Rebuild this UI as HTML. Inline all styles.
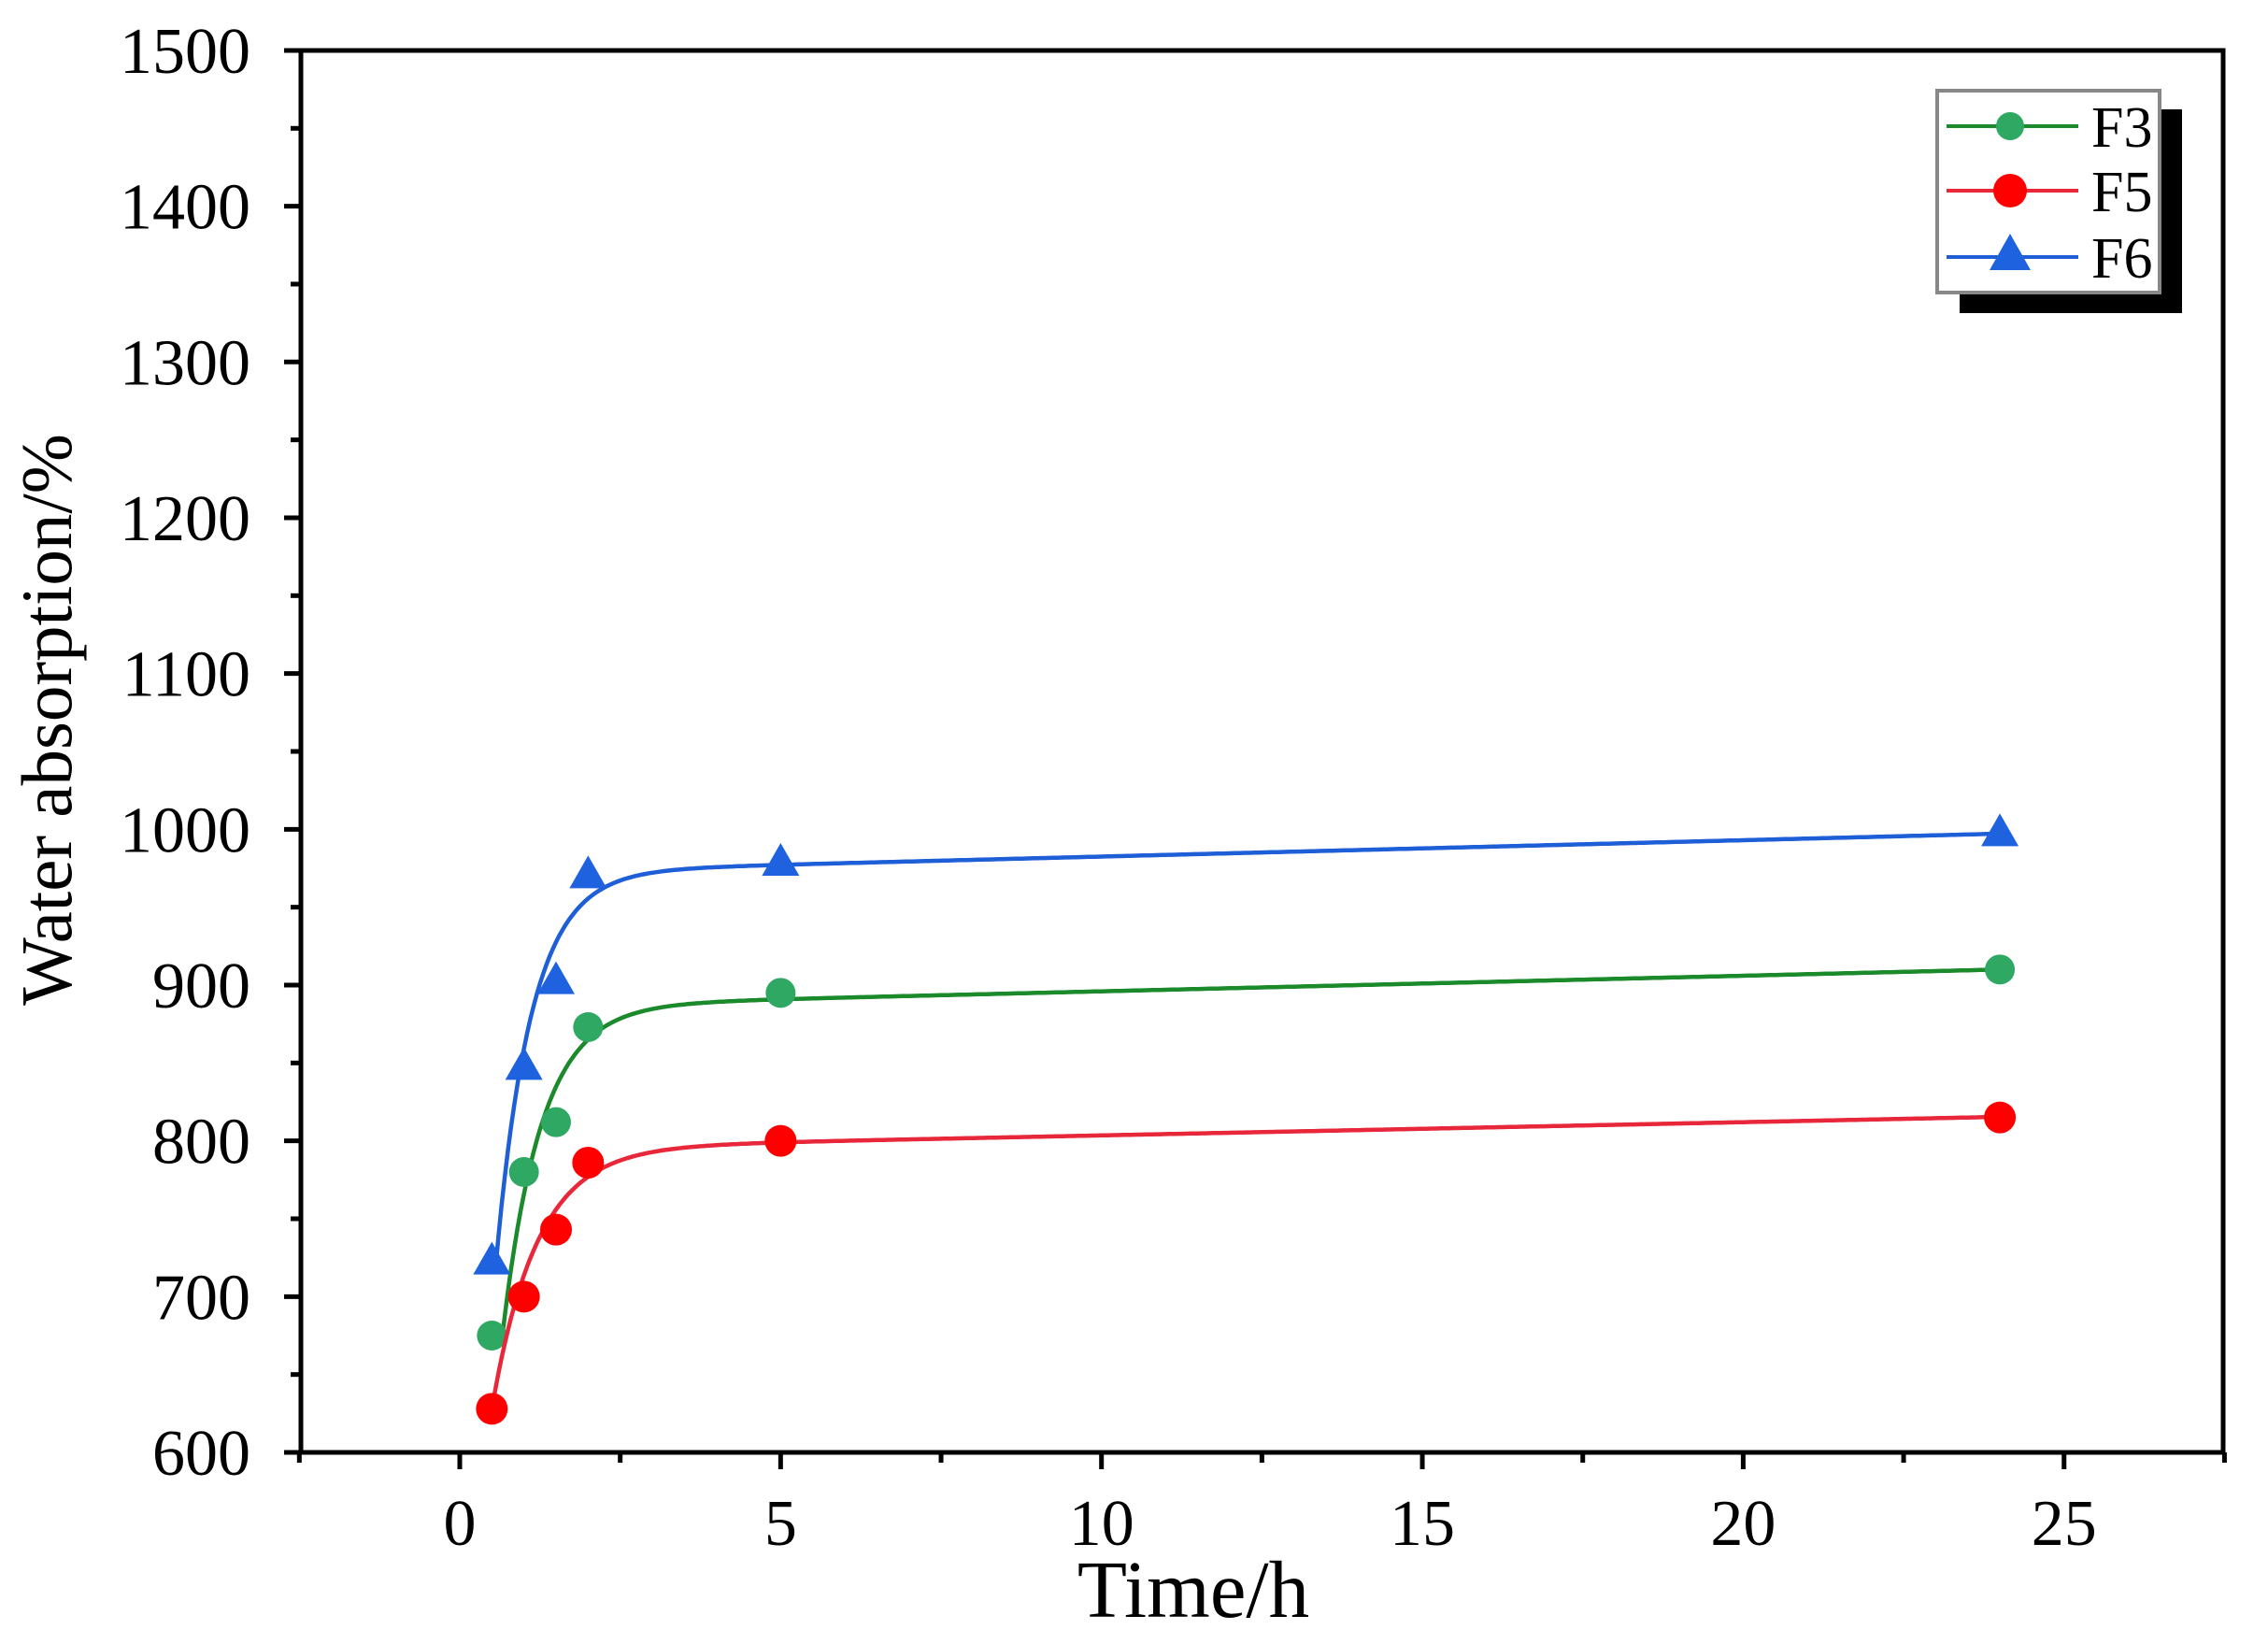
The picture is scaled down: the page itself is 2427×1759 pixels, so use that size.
<!DOCTYPE html>
<html><head><meta charset="utf-8"><style>
html,body{margin:0;padding:0;background:#fff}
svg{display:block;font-family:"Liberation Serif",serif}
</style></head><body>
<svg id="s" width="2427" height="1759" viewBox="0 0 2427 1759" xmlns="http://www.w3.org/2000/svg"></svg>
<script>
const s=document.getElementById('s');
const X=t=>492+t*68.67, Y=v=>1554-(v-600)*1.6667;
let h='';
const L=322,R=2379,T=54,B=1554;
h+=`<rect x="${L}" y="${T}" width="${R-L}" height="${B-T}" fill="none" stroke="#000" stroke-width="5"/>`;
for(let v=600;v<=1500;v+=50){const y=Y(v),maj=v%100==0;h+=`<line x1="${L-(maj?18:11)}" y1="${y}" x2="${L}" y2="${y}" stroke="#000" stroke-width="5"/>`;
if(maj)h+=`<text x="${L-54}" y="${y+24}" font-size="70" text-anchor="end">${v}</text>`;}
for(let t=-2.5;t<=27.5;t+=2.5){const x=X(t),maj=(t%5==0);h+=`<line x1="${x}" y1="${B}" x2="${x}" y2="${B+(maj?18:11)}" stroke="#000" stroke-width="5"/>`;
if(maj)h+=`<text x="${x}" y="${B+99}" font-size="70" text-anchor="middle">${t}</text>`;}
h+=`<text x="1277" y="1730" font-size="87" text-anchor="middle">Time/h</text>`;
h+=`<text transform="translate(76,770) rotate(-90)" font-size="77" text-anchor="middle">Water absorption/%</text>`;
const series=[
 {c:'#1a8a2a',m:'#2fa864',d:[[0.5,675],[1,780],[1.5,812],[2,873],[5,895],[24,910]],f:[886,1.0,670,0.65,0.6],mk:'c',r:16},
 {c:'#e8283a',m:'#ff0000',d:[[0.5,628],[1,700],[1.5,743],[2,786],[5,800],[24,815]],f:[795,0.85,628,0.5,0.7],mk:'c',r:17},
 {c:'#1e5fd8',m:'#1e62e0',d:[[0.5,722],[1,847],[1.5,902],[2,970],[5,978],[24,997]],f:[972,1.05,715,0.55,0.55],mk:'t'}];
for(const se of series){const [c,m,y0,ts,tau]=se.f;let p='';
 for(let t=ts;t<=24.001;t+=0.05){const yi=c+m*t;const y=yi-(yi-y0)*Math.exp(-(t-ts)/tau);p+=(p?'L':'M')+X(t).toFixed(1)+','+Y(y).toFixed(1);}
 h+=`<path d="${p}" fill="none" stroke="${se.c}" stroke-width="4.5"/>`;
 for(const [t,v] of se.d){const x=X(t),y=Y(v);
  if(se.mk=='c')h+=`<circle cx="${x}" cy="${y}" r="${se.r}" fill="${se.m}"/>`;
  else h+=`<polygon points="${x},${y-22} ${x-20},${y+13} ${x+20},${y+13}" fill="${se.m}"/>`;}
}
h+=`<rect x="2097" y="117" width="238" height="218" fill="#000"/>`;
h+=`<rect x="2073" y="97" width="238" height="216" fill="#fff" stroke="#888" stroke-width="4"/>`;
const ly=[135,204,275];
series.forEach((se,i)=>{const y=ly[i];h+=`<line x1="2083" y1="${y}" x2="2224" y2="${y}" stroke="${se.c}" stroke-width="4"/>`;
 if(se.mk=='c')h+=`<circle cx="2151" cy="${y}" r="${i==1?18:15}" fill="${se.m}"/>`;
 else h+=`<polygon points="2151,${y-25} 2129,${y+14} 2173,${y+14}" fill="${se.m}"/>`;
 h+=`<text x="2238" y="${y+22}" font-size="62">F${[3,5,6][i]}</text>`;});
s.innerHTML=h;
</script>
</body></html>
